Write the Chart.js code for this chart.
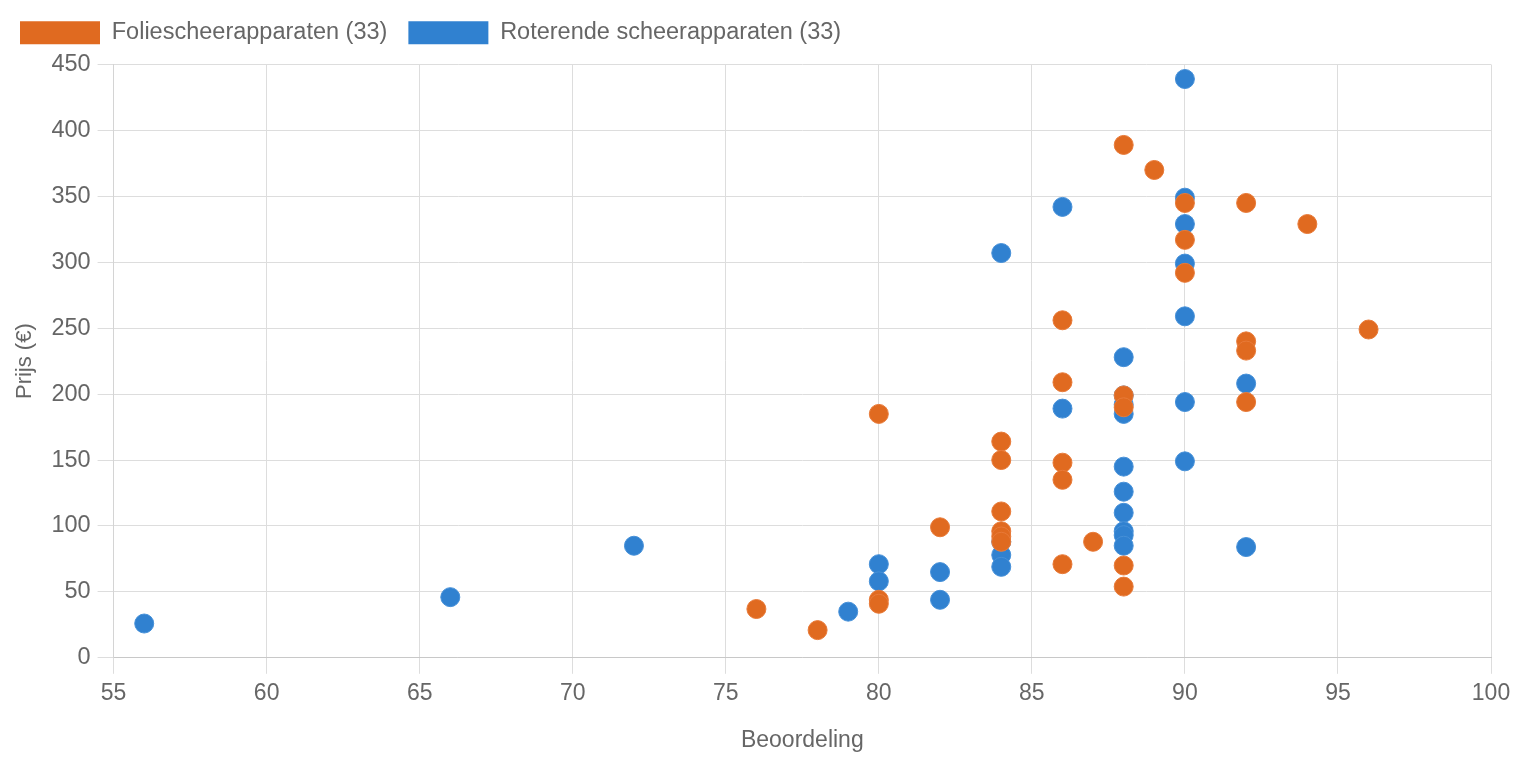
<!DOCTYPE html>
<html>
<head>
<meta charset="utf-8">
<script src="https://cdn.jsdelivr.net/npm/chart.js@4/dist/chart.umd.min.js"></script>
<style>
  html, body { margin: 0; padding: 0; background: #fff; }
  #wrap { width: 1518px; height: 758px; }
</style>
</head>
<body>
<div id="wrap"><canvas id="scatterChart"></canvas></div>
<script>
// Folie (foil) shavers: rating, price
const foilRatings = [76, 78, 80, 80, 80, 82, 84, 84, 84, 84, 84, 84, 86, 86, 86, 86, 86, 87, 88, 88, 88, 88, 88, 89, 90, 90, 90, 92, 92, 92, 92, 94, 96];
const foilPrices  = [37, 21, 185, 44, 41, 99, 164, 150, 111, 96, 92, 88, 256, 209, 148, 135, 71, 88, 389, 199, 190, 70, 54, 370, 345, 317, 292, 345, 240, 233, 194, 329, 249];

// Rotary shavers: rating, price
const rotaryRatings = [56, 66, 72, 79, 80, 80, 82, 82, 84, 84, 84, 84, 86, 86, 88, 88, 88, 88, 88, 88, 88, 88, 88, 88, 90, 90, 90, 90, 90, 90, 90, 92, 92];
const rotaryPrices  = [26, 46, 85, 35, 71, 58, 65, 44, 307, 78, 69, 88, 342, 189, 228, 192, 185, 145, 126, 110, 96, 93, 85, 199, 439, 349, 329, 299, 259, 194, 149, 208, 84];

const legendLabels = ["Foliescheerapparaten (33)", "Roterende scheerapparaten (33)"];

const ORANGE = "#e06a20";
const BLUE = "#3081d0";
const TEXT = "#666666";
const FONT = "'Liberation Sans', Arial, sans-serif";

function toPoints(xs, ys) {
    return xs.map((x, i) => ({ x: x, y: ys[i] }));
}

// Legend tweaks: more room below it, and pulled closer to the left edge
const legendTweak = {
    id: "legendTweak",
    beforeInit(chart) {
        const origFit = chart.legend.fit;
        chart.legend.fit = function() {
            origFit.call(this);
            this.height += 10;
        };
    },
    afterLayout(chart) {
        chart.legend.left -= 13;
        chart.legend.right -= 13;
    }
};

const ctx = document.getElementById("scatterChart").getContext("2d");
new Chart(ctx, {
    type: "scatter",
    data: {
        datasets: [
            {
                label: legendLabels[0],
                data: toPoints(foilRatings, foilPrices),
                backgroundColor: ORANGE,
                borderColor: "#e87a38",
                borderWidth: 1,
                pointRadius: 9.5
            },
            {
                label: legendLabels[1],
                data: toPoints(rotaryRatings, rotaryPrices),
                backgroundColor: BLUE,
                borderColor: "#4690d8",
                borderWidth: 1,
                pointRadius: 9.5
            }
        ]
    },
    plugins: [legendTweak],
    options: {
        responsive: true,
        maintainAspectRatio: false,
        animation: false,
        layout: { padding: { top: 0, left: 12, right: 27, bottom: 4 } },
        plugins: {
            legend: {
                position: "top",
                align: "start",
                labels: {
                    boxWidth: 80,
                    boxHeight: 23,
                    padding: 21,
                    color: TEXT,
                    font: { family: FONT, size: 23.5 },
                    generateLabels: function(chart) {
                        return chart.data.datasets.map((ds, i) => ({
                            text: ds.label,
                            fillStyle: ds.backgroundColor,
                            strokeStyle: ds.backgroundColor,
                            lineWidth: 0,
                            hidden: !chart.isDatasetVisible(i),
                            datasetIndex: i,
                            fontColor: TEXT
                        }));
                    }
                }
            },
            tooltip: { enabled: false }
        },
        scales: {
            x: {
                type: "linear",
                min: 55,
                max: 100,
                ticks: { stepSize: 5, color: TEXT, padding: 6, font: { family: FONT, size: 23 } },
                grid: { color: "#dddddd", tickLength: 16 },
                border: { color: "#c8c8c8" },
                title: {
                    display: true,
                    text: "Beoordeling",
                    color: TEXT,
                    font: { family: FONT, size: 23 },
                    padding: { top: 13, bottom: 0 }
                }
            },
            y: {
                min: 0,
                max: 450,
                ticks: { stepSize: 50, color: TEXT, padding: 7, font: { family: FONT, size: 23.5 } },
                grid: { color: "#dddddd", tickLength: 16 },
                border: { color: "#d4d4d4" },
                title: {
                    display: true,
                    text: "Prijs (€)",
                    color: TEXT,
                    font: { family: FONT, size: 22 },
                    padding: { top: 0, bottom: 6 }
                }
            }
        }
    }
});
</script>
</body>
</html>
